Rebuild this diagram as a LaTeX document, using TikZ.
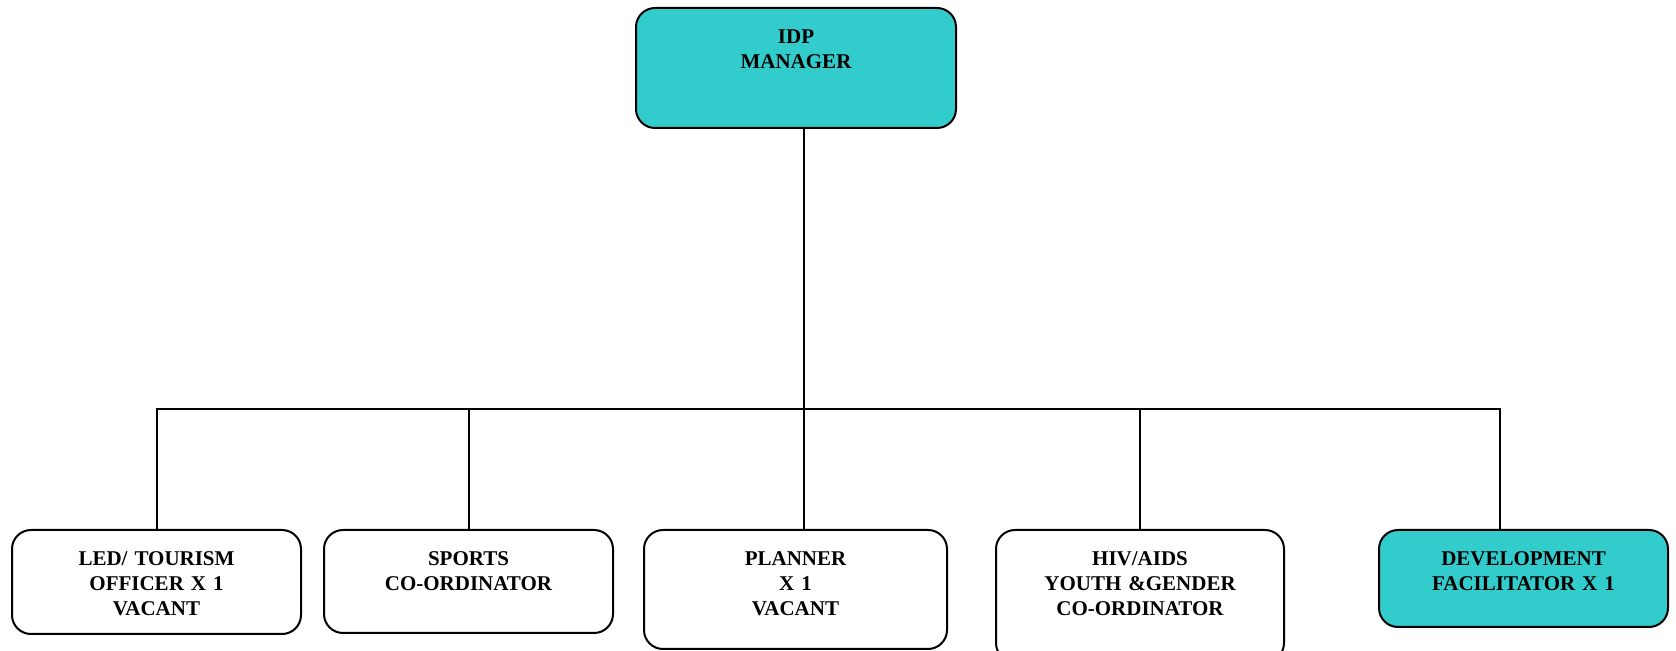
\documentclass[tikz,border=0pt]{standalone}
\usepackage{fontspec}
\setmainfont{Liberation Serif}
\usepackage{xcolor}
\usepackage{tikz}
\usetikzlibrary{positioning,calc}
\definecolor{idpTeal}{HTML}{33CCCC}

\begin{document}
\begin{tikzpicture}[
    x=0.5pt, y=-0.5pt,
    box/.style={rectangle, draw, line width=1pt, rounded corners=9.5pt, inner sep=0pt, anchor=north, align=center, text height=18pt, font=\fontsize{10.5}{12.3}\selectfont\bfseries},
    boxsize/.style 2 args={text width=#1, text depth=#2},
    conn/.style={line width=1pt}
]
\useasboundingbox (0,0) rectangle (1676,651);

% Manager
\node[box, boxsize={160pt}{42pt}, fill=idpTeal] (mgr) at (796,7) {IDP\\MANAGER};

% Staff row
\node[box, boxsize={144.5pt}{34pt}] (led) at (156.5,529) {LED/ TOURISM\\OFFICER X 1\\VACANT};
\node[box, boxsize={144.5pt}{33.5pt}] (sports) at (468.5,529) {SPORTS\\CO-ORDINATOR};
\node[box, boxsize={151.5pt}{41.5pt}] (plan) at (795.5,529) {PLANNER\\X 1\\VACANT};
\node[box, boxsize={144pt}{48pt}] (hiv) at (1140,529) {HIV/AIDS\\YOUTH \&GENDER\\CO-ORDINATOR};
\node[box, boxsize={144.5pt}{30.5pt}, fill=idpTeal] (dev) at (1523.5,529) {DEVELOPMENT\\FACILITATOR X 1};

% Connectors
\coordinate (bus) at (804,409);
\draw[conn] (mgr.south -| bus) -- (bus);
\draw[conn] (led.north) |- (bus) -| ([xshift=-11.75pt]dev.north);
\draw[conn] (plan.north -| bus) -- (bus);
\foreach \n in {sports,hiv}
    \draw[conn] (\n.north) -- (\n.north |- bus);

\end{tikzpicture}
\end{document}
